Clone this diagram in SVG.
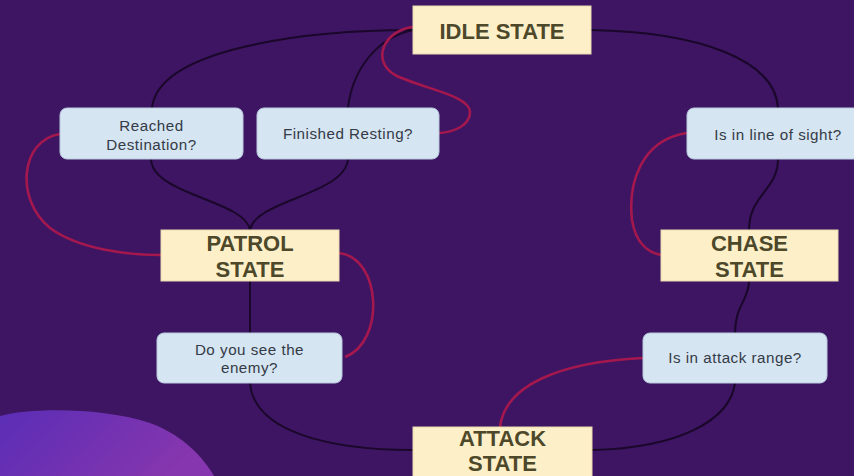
<svg xmlns="http://www.w3.org/2000/svg" width="854" height="476" viewBox="0 0 854 476">
<defs>
<linearGradient id="blob" x1="0" y1="0" x2="1" y2="0.3">
<stop offset="0" stop-color="#5a2db6"/>
<stop offset="1" stop-color="#8636ae"/>
</linearGradient>
<style>
.state rect{fill:#fdf0c9;stroke:#e8d9b0;stroke-width:1}
.state text{font-family:"Liberation Sans",Arial,sans-serif;font-size:22px;font-weight:bold;fill:#4d4829;text-anchor:middle}
.dec rect{fill:#d5e5f2;stroke:#b9cade;stroke-width:1}
.dec text{font-family:"Liberation Sans",Arial,sans-serif;font-size:15.2px;fill:#343a46;text-anchor:middle;letter-spacing:0.5px}
.dark{fill:none;stroke:#1a0729;stroke-width:2}
.red{fill:none;stroke:#a5184e;stroke-width:2.6}
</style>
</defs>
<rect width="854" height="476" fill="#3d1563"/>
<path d="M0,416 C30,408 100,407 150,423 C185,436 203,458 214,476 L0,476 Z" fill="url(#blob)"/>
<g id="connectors">
<path class="dark" d="M413,30 C300,30 158,50 152,108"/>
<path class="dark" d="M413,30 C375,38 352,72 348,108"/>
<path class="dark" d="M151,159 C152,195 245,200 250,230"/>
<path class="dark" d="M348,159 C345,195 255,200 250,230"/>
<path class="dark" d="M250,281 L250,333"/>
<path class="dark" d="M250,383 C254,432 330,450 413,450"/>
<path class="dark" d="M592,450 C680,448 730,420 735,383"/>
<path class="dark" d="M735,333 C735,305 749,300 749,281"/>
<path class="dark" d="M749,230 C749,195 778,190 778,159"/>
<path class="dark" d="M591,30 C700,32 775,60 778,108"/>
<path class="red" d="M413,27 C385,30 370,60 395,75 C420,88 470,95 470,112 C470,125 455,132 439,133"/>
<path class="red" d="M60,134 C20,140 15,200 50,228 C80,250 130,255 161,255"/>
<path class="red" d="M339,253 C382,258 385,342 345,357"/>
<path class="red" d="M643,358 C560,362 505,385 500,427"/>
<path class="red" d="M687,133 C640,140 628,185 632,220 C636,245 650,253 661,255"/>
</g>
<g id="idle" class="state"><rect x="413" y="6" width="178" height="48"/><text x="502" y="39" font-size="22.5">IDLE STATE</text></g>
<g id="patrol" class="state"><rect x="161" y="230" width="178" height="51"/><text x="250" y="251">PATROL</text><text x="250" y="277">STATE</text></g>
<g id="chase" class="state"><rect x="661" y="230" width="177" height="51"/><text x="749.5" y="251">CHASE</text><text x="749.5" y="277">STATE</text></g>
<g id="attack" class="state"><rect x="413" y="427" width="179" height="60"/><text x="502.5" y="446">ATTACK</text><text x="502.5" y="471">STATE</text></g>
<g id="reached" class="dec"><rect x="60" y="108" width="183" height="51" rx="7"/><text x="151.5" y="131">Reached</text><text x="151.5" y="150">Destination?</text></g>
<g id="resting" class="dec"><rect x="257" y="108" width="182" height="51" rx="7"/><text x="348" y="139">Finished Resting?</text></g>
<g id="sight" class="dec"><rect x="687" y="108" width="182" height="51" rx="7"/><text x="778" y="140">Is in line of sight?</text></g>
<g id="see" class="dec"><rect x="157" y="333" width="185" height="50" rx="7"/><text x="249.5" y="355">Do you see the</text><text x="249.5" y="373">enemy?</text></g>
<g id="range" class="dec"><rect x="643" y="333" width="184" height="50" rx="7"/><text x="735" y="363">Is in attack range?</text></g>
</svg>
